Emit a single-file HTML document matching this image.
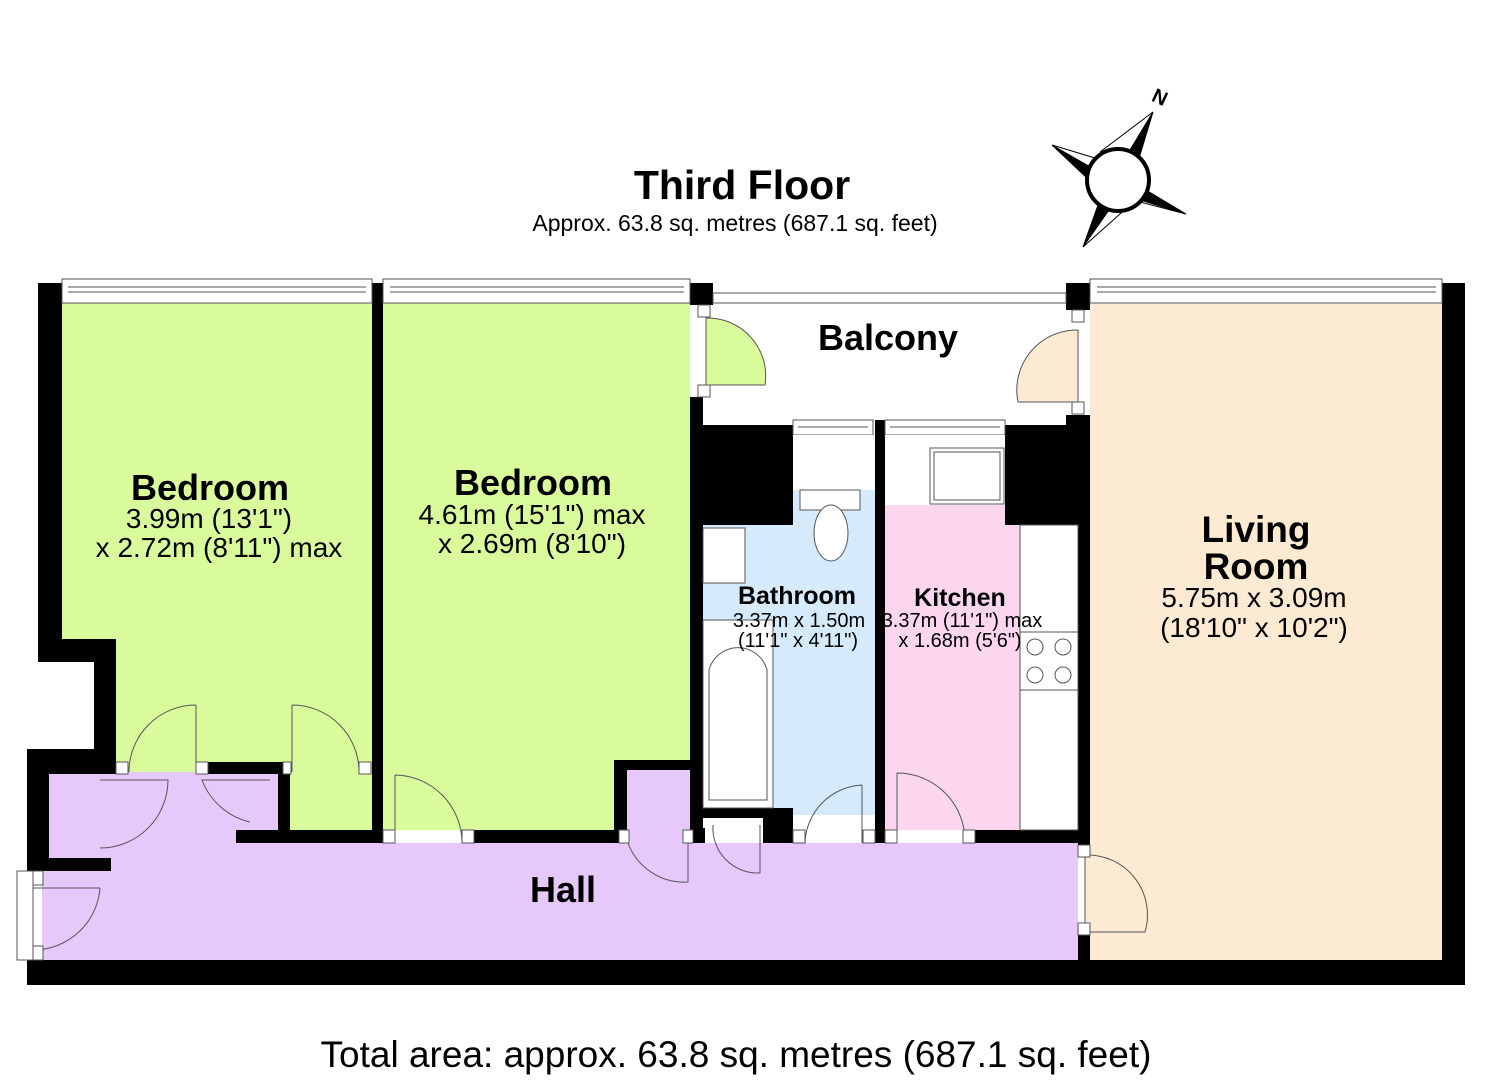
<!DOCTYPE html>
<html><head><meta charset="utf-8"><style>
html,body{margin:0;padding:0;background:#fff;}
svg{display:block;}
text{font-family:"Liberation Sans",Arial,sans-serif;fill:#000;}
.b{font-weight:bold;}
</style></head><body>
<svg width="1485" height="1080" viewBox="0 0 1485 1080" xmlns="http://www.w3.org/2000/svg">
<!-- fills -->
<polygon points="62,303 372,303 372,830 290,830 290,772 116,772 116,639 62,639" fill="#dafb9b"/>
<rect x="383" y="303" width="307" height="527" fill="#dafb9b"/>
<polygon points="49,772 283,772 283,843 627,843 627,770 690,770 690,843 1078,843 1078,960 42,960 42,870 49,870" fill="#e6c8fa"/>
<rect x="703" y="490" width="172" height="325" fill="#d5eafb"/>
<rect x="885" y="505" width="135" height="325" fill="#fbd6ee"/>
<rect x="1090" y="303" width="352" height="657" fill="#fcebd2"/>
<path d="M1078,330 A60,60 0 0 0 1018,402 L1078,402 Z" fill="#fcebd2" stroke="#555" stroke-width="1"/>
<path d="M1085,855 A60,60 0 0 1 1145,932 L1085,932 Z" fill="#fcebd2" stroke="#555" stroke-width="1"/>
<path d="M706,318 A58,58 0 0 1 765,385 L706,385 Z" fill="#dafb9b" stroke="#555" stroke-width="1"/>
<!-- walls -->
<g fill="#000">
<rect x="38" y="283" width="24" height="379"/>
<rect x="38" y="639" width="78" height="23"/>
<rect x="94" y="639" width="22" height="135"/>
<rect x="27" y="749" width="89" height="25"/>
<rect x="27" y="749" width="22" height="122"/>
<rect x="27" y="858" width="84" height="13"/>
<rect x="27" y="960" width="1438" height="25"/>
<rect x="372" y="283" width="11" height="560"/>
<rect x="207" y="762" width="76" height="12"/>
<rect x="278" y="762" width="12" height="81"/>
<rect x="236" y="830" width="147" height="13"/>
<rect x="473" y="830" width="154" height="13"/>
<rect x="614" y="760" width="13" height="83"/>
<rect x="614" y="760" width="76" height="10"/>
<rect x="690" y="283" width="23" height="22"/>
<rect x="690" y="397" width="13" height="433"/>
<rect x="697" y="425" width="96" height="100"/>
<rect x="703" y="808" width="60" height="10"/>
<rect x="763" y="808" width="30" height="35"/>
<rect x="690" y="828" width="15" height="15"/>
<rect x="875" y="420" width="10" height="423"/>
<rect x="1005" y="425" width="73" height="100"/>
<rect x="975" y="830" width="103" height="13"/>
<rect x="1066" y="283" width="24" height="27"/>
<rect x="1066" y="415" width="24" height="15"/>
<rect x="1078" y="415" width="12" height="430"/>
<rect x="1078" y="935" width="12" height="25"/>
<rect x="1442" y="283" width="23" height="702"/>
</g>
<!-- windows -->
<g fill="#fff" stroke="#555" stroke-width="1">
<rect x="62" y="279" width="310" height="24"/>
<line x1="68" y1="287" x2="366" y2="287"/><line x1="68" y1="292" x2="366" y2="292"/>
<rect x="383" y="279" width="307" height="24"/>
<line x1="390" y1="287" x2="684" y2="287"/><line x1="390" y1="292" x2="684" y2="292"/>
<rect x="713" y="293" width="353" height="10"/>
<rect x="1090" y="279" width="352" height="24"/>
<line x1="1097" y1="287" x2="1436" y2="287"/><line x1="1097" y1="292" x2="1436" y2="292"/>
<rect x="793" y="420" width="80" height="15"/>
<line x1="798" y1="427" x2="868" y2="427"/>
<rect x="885" y="420" width="120" height="15"/>
<line x1="890" y1="427" x2="1000" y2="427"/>
<rect x="17" y="871" width="16" height="89"/>
</g>
<!-- fixtures -->
<g fill="#fff" stroke="#555" stroke-width="1">
<rect x="793" y="435" width="80" height="55" stroke="none"/>
<rect x="800" y="490" width="60" height="20"/>
<ellipse cx="831" cy="533" rx="17" ry="28"/>
<rect x="703" y="528" width="42" height="55"/>
<rect x="703" y="620" width="70" height="188"/>
<path d="M709,800 L709,670 A30,30 0 0 1 767,670 L767,800 Z"/>
<rect x="885" y="435" width="120" height="70" stroke="none"/>
<rect x="930" y="448" width="74" height="56"/>
<rect x="934" y="452" width="66" height="48"/>
<rect x="1020" y="525" width="58" height="305"/>
<rect x="1020" y="632" width="58" height="58"/>
<circle cx="1035" cy="647" r="8"/><circle cx="1063" cy="647" r="8"/>
<circle cx="1035" cy="675" r="8"/><circle cx="1063" cy="675" r="8"/>
</g>
<!-- doors -->
<g fill="none" stroke="#555" stroke-width="1">
<path d="M196,705 L196,772 M196,705 A67,67 0 0 0 129,772"/>
<path d="M292,705 L292,772 M292,705 A67,67 0 0 1 359,772"/>
<path d="M100,780 L168,780 A68,68 0 0 1 100,848"/>
<path d="M270,780 L202,780 A68,68 0 0 0 250,822"/>
<path d="M395,775 L395,843 M395,775 A68,68 0 0 1 462,843"/>
<path d="M100,888 L33,888 M100,888 A67,67 0 0 1 33,950"/>
<path d="M628,843 A60,60 0 0 0 688,882 L688,843"/>
<path d="M713,825 A45,45 0 0 0 760,873 L760,825"/>
<path d="M862,785 L862,843 M862,785 A60,60 0 0 0 805,843"/>
<path d="M897,773 L897,843 M897,773 A68,68 0 0 1 965,843"/>
</g>
<g fill="#fff" stroke="#555" stroke-width="1">
<rect x="116" y="762" width="12" height="12"/><rect x="196" y="762" width="12" height="12"/>
<rect x="283" y="762" width="8" height="12"/><rect x="359" y="762" width="12" height="12"/>
<rect x="383" y="830" width="12" height="13"/><rect x="462" y="830" width="12" height="13"/>
<rect x="619" y="830" width="10" height="13"/><rect x="683" y="830" width="10" height="13"/>
<rect x="793" y="830" width="12" height="13"/><rect x="863" y="830" width="12" height="13"/>
<rect x="885" y="830" width="12" height="13"/><rect x="963" y="830" width="12" height="13"/>
<rect x="698" y="305" width="12" height="12"/><rect x="698" y="385" width="12" height="12"/>
<rect x="1072" y="310" width="12" height="12"/><rect x="1072" y="402" width="12" height="12"/>
<rect x="1078" y="845" width="12" height="12"/><rect x="1078" y="923" width="12" height="12"/>
<rect x="33" y="871" width="10" height="14"/><rect x="33" y="946" width="10" height="14"/>
</g>
<!-- compass -->
<g stroke="#000" stroke-width="1">
<polygon points="1153,112 1130,150 1140,155" fill="#000"/><line x1="1153" y1="112" x2="1100" y2="152"/>
<polygon points="1052,145 1092,168 1087,178" fill="#000"/><line x1="1052" y1="145" x2="1095" y2="158"/>
<polygon points="1186,214 1146,190 1140,200" fill="#000"/><line x1="1186" y1="214" x2="1140" y2="202"/>
<polygon points="1083,247 1098,205 1109,210" fill="#000"/><line x1="1083" y1="247" x2="1130" y2="205"/>
<circle cx="1118" cy="180" r="31" fill="#fff" stroke-width="4"/>
</g>
<text x="1160" y="104" class="b" font-size="20" transform="rotate(25 1160 97)" text-anchor="middle">N</text>
<!-- text -->
<text x="742" y="199" class="b" font-size="41" text-anchor="middle">Third Floor</text>
<text x="735" y="231" font-size="23" text-anchor="middle">Approx. 63.8 sq. metres (687.1 sq. feet)</text>
<text x="888" y="350" class="b" font-size="36" text-anchor="middle">Balcony</text>
<text x="210" y="500" class="b" font-size="36" text-anchor="middle">Bedroom</text>
<text x="209" y="528" font-size="28" text-anchor="middle">3.99m (13'1")</text>
<text x="219" y="557" font-size="28" text-anchor="middle">x 2.72m (8'11") max</text>
<text x="533" y="495" class="b" font-size="36" text-anchor="middle">Bedroom</text>
<text x="532" y="524" font-size="28" text-anchor="middle">4.61m (15'1") max</text>
<text x="532" y="553" font-size="28" text-anchor="middle">x 2.69m (8'10")</text>
<text x="797" y="604" class="b" font-size="25" text-anchor="middle">Bathroom</text>
<text x="799" y="627" font-size="20" text-anchor="middle">3.37m x 1.50m</text>
<text x="798" y="647" font-size="20" text-anchor="middle">(11'1" x 4'11")</text>
<text x="960" y="606" class="b" font-size="25" text-anchor="middle">Kitchen</text>
<text x="962" y="627" font-size="20" text-anchor="middle">3.37m (11'1") max</text>
<text x="960" y="647" font-size="20" text-anchor="middle">x 1.68m (5'6")</text>
<text x="1256" y="542" class="b" font-size="37" text-anchor="middle">Living</text>
<text x="1256" y="579" class="b" font-size="37" text-anchor="middle">Room</text>
<text x="1254" y="607" font-size="28" text-anchor="middle">5.75m x 3.09m</text>
<text x="1254" y="637" font-size="28" text-anchor="middle">(18'10" x 10'2")</text>
<text x="563" y="902" class="b" font-size="36" text-anchor="middle">Hall</text>
<text x="736" y="1067" font-size="37" text-anchor="middle">Total area: approx. 63.8 sq. metres (687.1 sq. feet)</text>
</svg>
</body></html>
